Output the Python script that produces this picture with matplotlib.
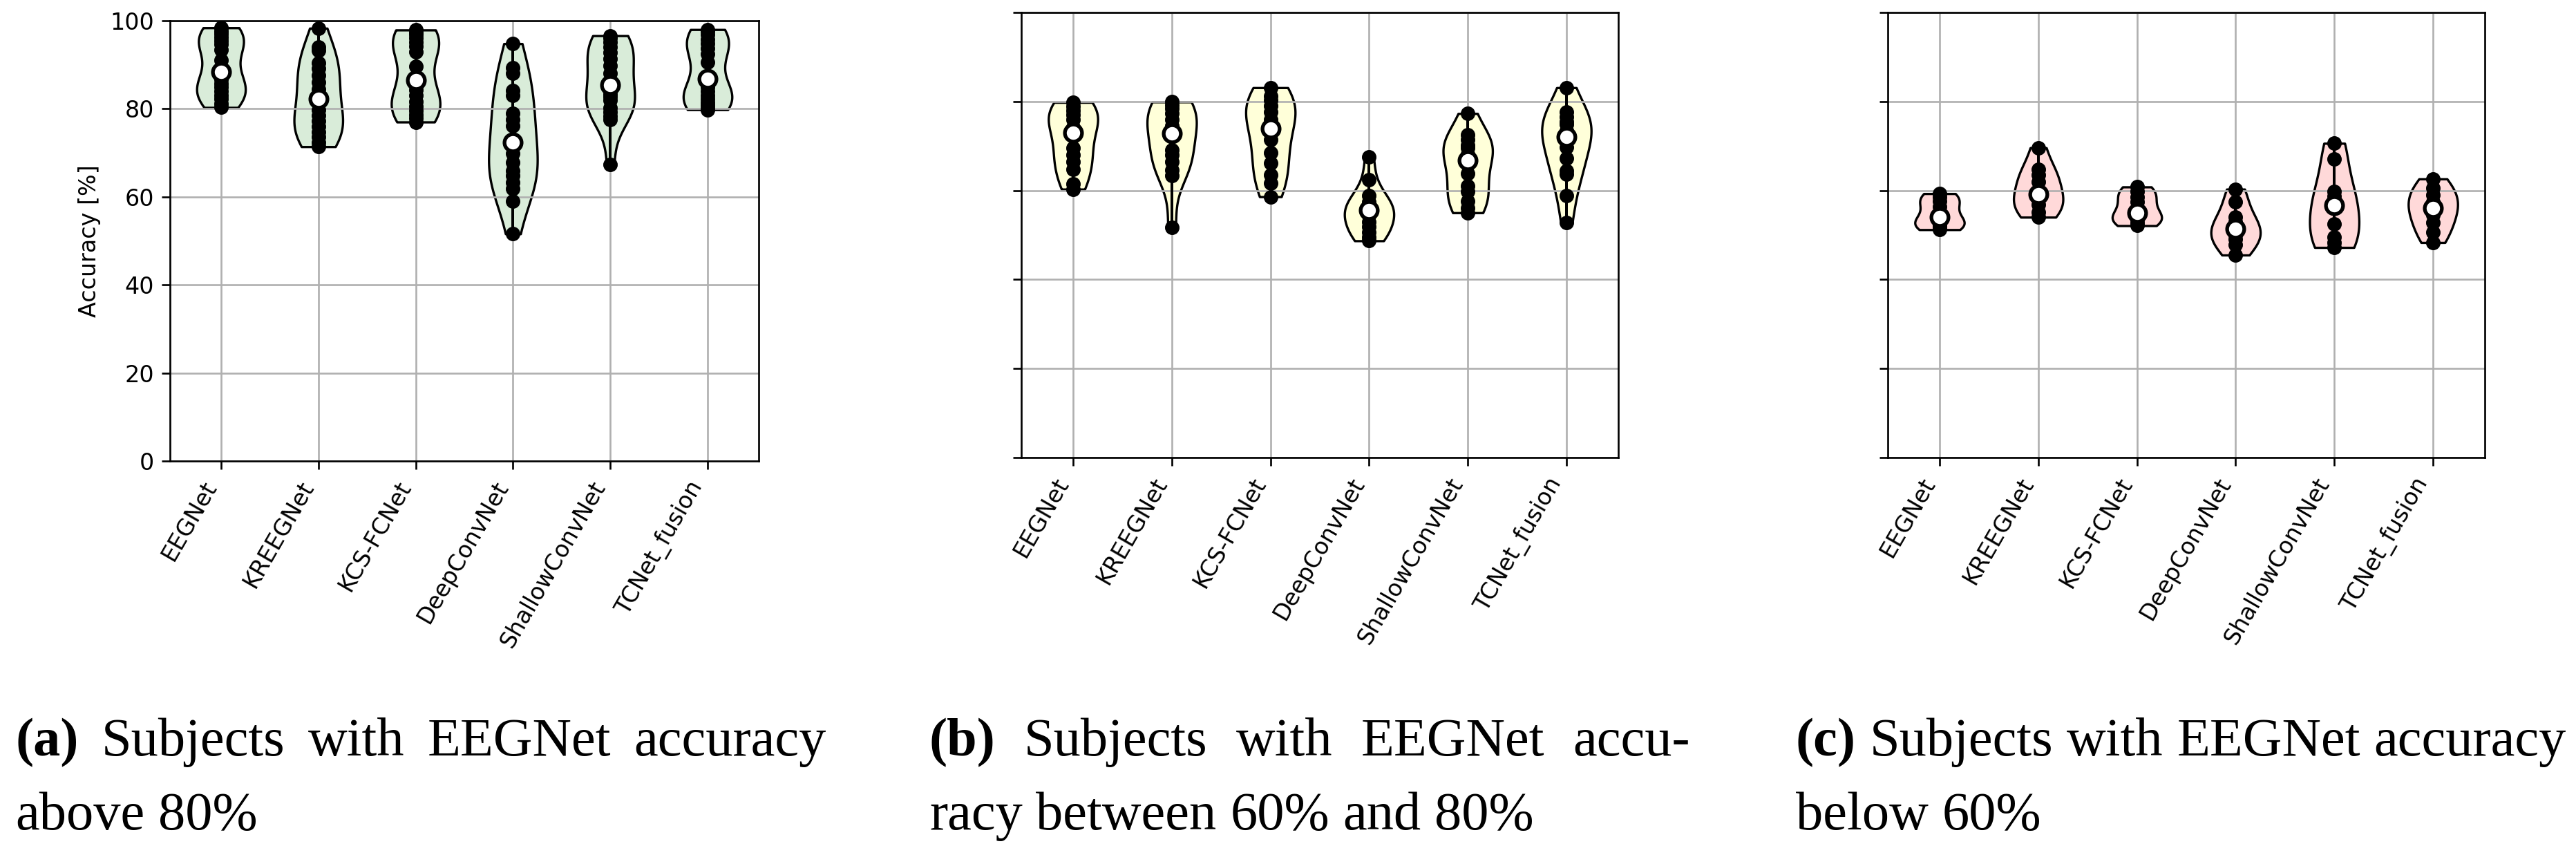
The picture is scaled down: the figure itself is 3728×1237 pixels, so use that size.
import numpy as np
import matplotlib
matplotlib.use("Agg")
import matplotlib.pyplot as plt
import matplotlib.transforms as mtransforms
from matplotlib.colors import to_rgba

models = ['EEGNet', 'KREEGNet', 'KCS-FCNet', 'DeepConvNet', 'ShallowConvNet', 'TCNet_fusion']

# accuracies per model, subjects with EEGNet acc > 80%
acc_high = [
    [98.4, 97.7, 97.0, 96.2, 95.4, 94.6, 93.4, 91.0, 88.4, 86.6, 85.7, 84.9, 84.0, 83.1, 82.2, 81.2, 80.3],
    [98.3, 94.0, 93.3, 90.4, 89.2, 87.6, 86.0, 84.5, 82.2, 79.8, 78.5, 77.3, 76.0, 74.8, 73.6, 72.3, 71.4],
    [97.9, 97.4, 96.8, 96.0, 95.2, 94.2, 93.0, 89.6, 86.5, 84.3, 83.0, 81.6, 80.5, 79.6, 78.7, 77.8, 77.0],
    [94.8, 89.3, 88.0, 84.1, 83.0, 79.0, 77.5, 76.2, 72.3, 69.8, 67.8, 66.0, 64.8, 63.3, 61.9, 59.1, 51.6],
    [96.6, 96.0, 95.2, 94.0, 92.8, 91.3, 89.8, 88.0, 85.4, 83.4, 82.7, 82.0, 80.2, 79.3, 78.3, 77.5, 67.4],
    [98.0, 97.6, 96.8, 95.8, 94.8, 93.7, 92.5, 90.6, 86.8, 85.0, 84.0, 83.0, 82.2, 81.5, 80.8, 80.2, 79.8],
]
# 60% < EEGNet acc < 80%
acc_mid = [
    [79.8, 78.9, 78.0, 77.0, 76.0, 74.3, 73.0, 69.5, 68.0, 66.5, 64.8, 61.5, 60.3],
    [79.9, 79.2, 78.4, 77.3, 76.0, 74.6, 72.9, 69.1, 68.0, 66.5, 64.6, 63.4, 51.7],
    [83.1, 81.2, 80.3, 79.0, 77.6, 76.0, 73.9, 71.5, 68.5, 66.2, 63.5, 61.6, 58.6],
    [67.6, 62.4, 58.9, 57.5, 56.6, 56.0, 55.6, 54.3, 53.0, 51.8, 50.6, 49.6, 48.7],
    [77.3, 72.5, 71.4, 70.2, 69.5, 68.2, 66.7, 63.8, 61.0, 59.8, 57.6, 56.0, 55.0],
    [83.1, 77.6, 76.6, 75.5, 74.8, 73.5, 72.0, 69.7, 67.3, 64.5, 63.7, 58.8, 52.8],
]
# EEGNet acc < 60%
acc_low = [
    [59.3, 58.5, 57.6, 56.4, 54.0, 53.0, 52.4, 51.8, 51.2],
    [69.6, 64.8, 63.5, 62.0, 59.1, 58.0, 56.8, 55.2, 54.0],
    [60.8, 59.8, 58.6, 57.4, 55.0, 54.3, 53.5, 52.8, 52.1],
    [60.3, 57.5, 54.0, 53.0, 51.4, 50.0, 49.0, 47.8, 45.5],
    [70.6, 67.1, 59.8, 58.7, 56.6, 52.5, 49.5, 48.3, 47.2],
    [62.6, 60.5, 59.0, 57.5, 56.1, 54.5, 52.8, 50.6, 48.3],
]

W, H, DPI = 3728, 1237, 240
fig = plt.figure(figsize=(W / DPI, H / DPI), dpi=DPI)


def px_axes(left, top, right, bottom):
    return fig.add_axes([left / W, 1 - bottom / H, (right - left) / W, (bottom - top) / H])


def violin_panel(ax, data, color, show_ylabels):
    pos = np.arange(1, len(data) + 1)
    parts = ax.violinplot(data, positions=pos, showextrema=False)
    for body in parts['bodies']:
        body.set_facecolor(to_rgba(color, 0.15))
        body.set_edgecolor('black')
        body.set_linewidth(1.0)
        body.set_alpha(None)
    for p, vals in zip(pos, data):
        vals = np.array(vals)
        ax.vlines(p, vals.min(), vals.max(), color='black', lw=1.2, zorder=3)
        ax.scatter(np.full(len(vals), p), vals, s=28, color='black', zorder=3)
        ax.scatter([p], [np.median(vals)], s=55, facecolor='white', edgecolor='black',
                   linewidth=1.6, zorder=4)
    ax.set_ylim(0, 100)
    ax.set_yticks(range(0, 101, 20))
    ax.set_xticks(pos)
    ax.set_xticklabels(models, rotation=60, ha='right')
    ax.grid(True)
    if show_ylabels:
        ax.set_ylabel('Accuracy [%]')
    else:
        ax.set_yticklabels([])


ax1 = px_axes(246, 30, 1098, 667)
ax2 = px_axes(1478, 18, 2342, 662)
ax3 = px_axes(2732, 18, 3596, 662)
violin_panel(ax1, acc_high, 'green', True)
violin_panel(ax2, acc_mid, 'yellow', False)
violin_panel(ax3, acc_low, 'red', False)

# captions, drawn word by word to mimic justified LaTeX text
cap_font = dict(family='Liberation Serif', fontsize=23.5)
ident = mtransforms.IdentityTransform()
renderer = fig.canvas.get_renderer()


def caption_line(words, x0, base_y, width=None, bold_first=False):
    texts = []
    for i, w in enumerate(words):
        wt = 'bold' if (bold_first and i == 0) else 'normal'
        texts.append(fig.text(0, H - base_y, w, transform=ident, va='baseline',
                              fontweight=wt, **cap_font))
    widths = [t.get_window_extent(renderer).width for t in texts]
    probe = fig.text(0, 0, 'x x', transform=ident, **cap_font)
    probe2 = fig.text(0, 0, 'xx', transform=ident, **cap_font)
    space = probe.get_window_extent(renderer).width - probe2.get_window_extent(renderer).width
    probe.remove()
    probe2.remove()
    if width is not None and len(words) > 1:
        space = (width - sum(widths)) / (len(words) - 1)
    x = x0
    for t, w in zip(texts, widths):
        t.set_x(x)
        x += w + space


caption_line(['(a)', 'Subjects', 'with', 'EEGNet', 'accuracy'], 22, 1093, width=1174, bold_first=True)
caption_line(['above', '80%'], 22, 1200)
caption_line(['(b)', 'Subjects', 'with', 'EEGNet', 'accu-'], 1345, 1093, width=1101, bold_first=True)
caption_line(['racy', 'between', '60%', 'and', '80%'], 1345, 1200)
caption_line(['(c)', 'Subjects', 'with', 'EEGNet', 'accuracy'], 2599, 1093, bold_first=True)
caption_line(['below', '60%'], 2599, 1200)

fig.savefig('out.png', dpi=DPI)
